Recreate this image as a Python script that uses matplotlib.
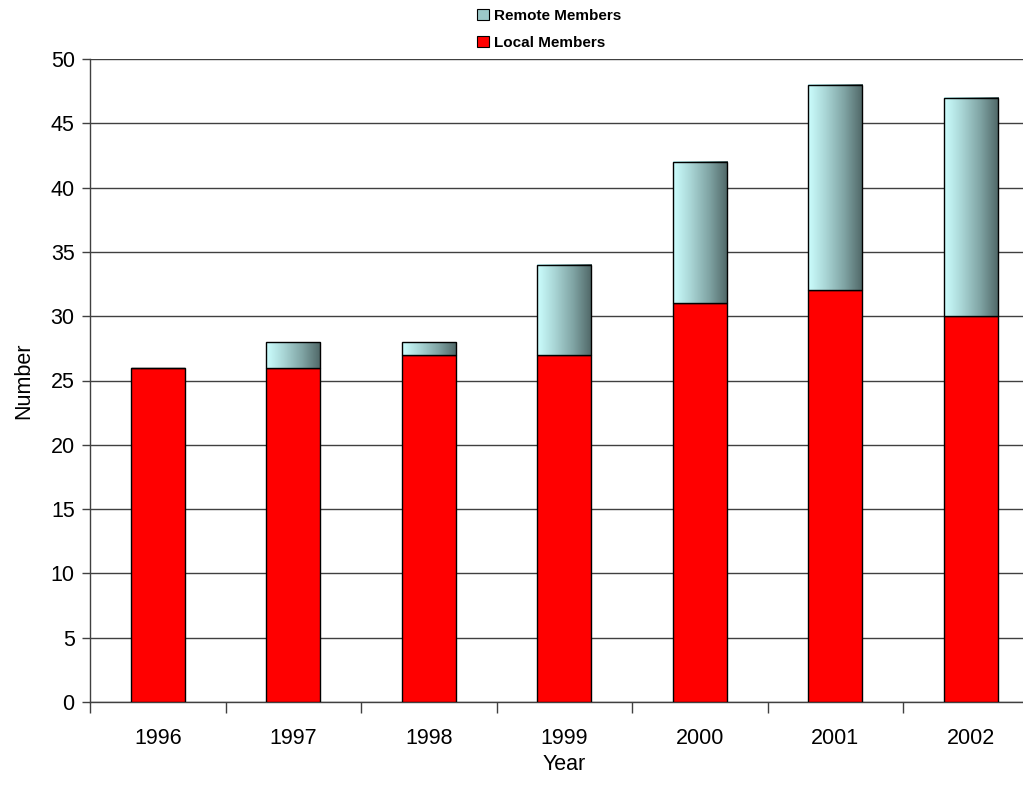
import matplotlib
matplotlib.use('Agg')
import matplotlib.pyplot as plt
import numpy as np
from matplotlib.colors import LinearSegmentedColormap
from matplotlib.patches import Patch

plt.rcParams['font.family'] = ['Liberation Sans', 'DejaVu Sans']

# Data
years = ['1996', '1997', '1998', '1999', '2000', '2001', '2002']
local_members = [26, 26, 27, 27, 31, 32, 30]
remote_members = [0, 2, 1, 7, 11, 16, 17]

fig = plt.figure(figsize=(10.23, 7.87), dpi=100)
ax = fig.add_axes([90 / 1023, 85 / 787, 948.5 / 1023, 643 / 787])

x = np.arange(len(years))
width = 0.4

# Local members (red)
ax.bar(x, local_members, width, color='#FF0000', edgecolor='black', linewidth=1, zorder=3)

# Remote members with horizontal gradient
grad_cmap = LinearSegmentedColormap.from_list('remote', ['#CCFFFF', '#A8D4D4', '#7FA3A3', '#4F6666'])
grad = np.linspace(0, 1, 256).reshape(1, -1)
remote_bars = ax.bar(x, remote_members, width, bottom=local_members, color='none',
                     edgecolor='black', linewidth=1, zorder=4)
for rect, r in zip(remote_bars, remote_members):
    if r <= 0:
        continue
    x0 = rect.get_x()
    y0 = rect.get_y()
    ax.imshow(grad, cmap=grad_cmap, aspect='auto', interpolation='bilinear',
              extent=[x0, x0 + rect.get_width(), y0, y0 + rect.get_height()], zorder=3)

ax.set_xlim(-0.5, len(years) - 0.5)
ax.set_ylim(0, 50)
ax.set_yticks(np.arange(0, 51, 5))
ax.yaxis.grid(True, color='#404040', linewidth=1, zorder=0)
ax.set_axisbelow(True)

# category labels at centres, tick marks between categories
ax.set_xticks(x)
ax.set_xticklabels(years)
ax.set_xticks(np.arange(-0.5, len(years), 1), minor=True)
ax.tick_params(axis='x', which='major', length=0, labelsize=15.5, pad=19)
ax.tick_params(axis='x', which='minor', length=8, width=1, color='#404040', direction='out')
ax.tick_params(axis='y', length=6, width=1, color='#404040', labelsize=15.5, pad=5)

for side in ['top', 'right']:
    ax.spines[side].set_visible(False)
for side in ['left', 'bottom']:
    ax.spines[side].set_color('#404040')
    ax.spines[side].set_linewidth(1)

ax.set_ylabel('Number', fontsize=15.5, labelpad=12)
ax.set_xlabel('Year', fontsize=15.5, labelpad=3)

handles = [Patch(facecolor='#9CC8C8', edgecolor='black', linewidth=0.8),
           Patch(facecolor='#FF0000', edgecolor='black', linewidth=0.8)]
fig.legend(handles, ['Remote Members', 'Local Members'], loc='upper left',
           bbox_to_anchor=(471 / 1023, 1 - 3 / 787), frameon=False,
           prop={'weight': 'bold', 'size': 11}, handlelength=0.75, handleheight=0.75,
           handletextpad=0.35, labelspacing=0.85, borderaxespad=0)

fig.savefig('out.png', dpi=100)
